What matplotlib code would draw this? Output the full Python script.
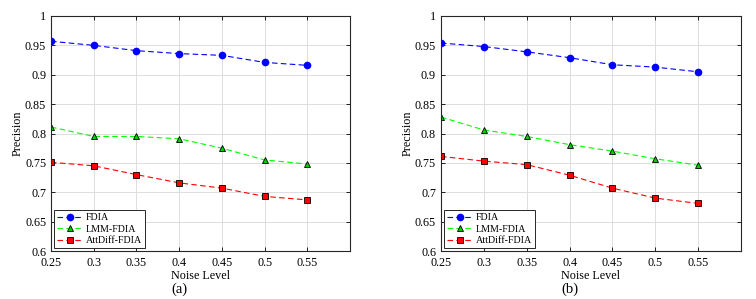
import matplotlib.pyplot as plt

plt.rcParams['font.family'] = ['Liberation Serif', 'DejaVu Serif']

noise = [0.25, 0.3, 0.35, 0.4, 0.45, 0.5, 0.55]
x_ticks = [0.25, 0.3, 0.35, 0.4, 0.45, 0.5, 0.55]
y_ticks = [0.6, 0.65, 0.7, 0.75, 0.8, 0.85, 0.9, 0.95, 1]
y_tick_labels = ['0.6', '0.65', '0.7', '0.75', '0.8', '0.85', '0.9', '0.95', '1']

# panel (a)
fdia_a = [0.957, 0.950, 0.941, 0.936, 0.933, 0.921, 0.916]
lmm_a = [0.811, 0.795, 0.795, 0.791, 0.775, 0.755, 0.748]
att_a = [0.751, 0.745, 0.730, 0.716, 0.707, 0.693, 0.687]

# panel (b)
fdia_b = [0.954, 0.948, 0.939, 0.929, 0.917, 0.913, 0.905]
lmm_b = [0.828, 0.806, 0.795, 0.781, 0.770, 0.757, 0.746]
att_b = [0.761, 0.753, 0.747, 0.729, 0.707, 0.690, 0.681]

panels = [('(a)', fdia_a, lmm_a, att_a, [0.0675, 0.1605, 0.3955, 0.786]),
          ('(b)', fdia_b, lmm_b, att_b, [0.5833, 0.1605, 0.397, 0.786])]

fig = plt.figure(figsize=(7.56, 2.99), dpi=100)

for tag, fdia, lmm, att, pos in panels:
    ax = fig.add_axes(pos)
    ax.plot(noise, fdia, color='#0000ff', lw=0.8, marker='o', ms=4.5,
            mfc='#0000ff', mec='#0000ff', label='FDIA', dashes=(5, 3))
    ax.plot(noise, lmm, color='#00ff00', lw=0.8, marker='^', ms=5,
            mfc='#00cc00', mec='black', mew=0.6, label='LMM-FDIA', dashes=(5, 3))
    ax.plot(noise, att, color='#ff0000', lw=0.8, marker='s', ms=4,
            mfc='#ff0000', mec='black', mew=0.6, label='AttDiff-FDIA', dashes=(5, 3))
    ax.set_xlim(0.25, 0.6)
    ax.set_ylim(0.6, 1.0)
    ax.set_xticks(x_ticks + [0.6])
    ax.set_xticklabels([str(t) for t in x_ticks] + [''])
    ax.set_yticks(y_ticks)
    ax.set_yticklabels(y_tick_labels)
    ax.grid(True, color='#dddddd', lw=0.7)
    ax.set_axisbelow(True)
    ax.tick_params(direction='in', top=True, right=True, labelsize=8.7,
                   length=3, width=0.6)
    ax.tick_params(axis='x', pad=4.5)
    ax.tick_params(axis='y', pad=3.5)
    for s in ax.spines.values():
        s.set_linewidth(0.8)
        s.set_color('#262626')
    ax.set_xlabel('Noise Level', fontsize=8.7)
    ax.xaxis.set_label_coords(0.5, -0.106)
    ax.xaxis.label.set_va('center')
    ax.set_ylabel('Precision', fontsize=8.7)
    ax.yaxis.set_label_coords(-0.11, 0.5)
    ax.yaxis.label.set_va('center')
    ax.text(0.43, -0.162, tag, transform=ax.transAxes, ha='center', va='center',
            fontsize=10.5)
    leg = ax.legend(loc='lower left', fontsize=7.2, fancybox=False,
                    framealpha=1, edgecolor='#262626', borderpad=0.3,
                    labelspacing=0.25, handlelength=2.6, handletextpad=0.3,
                    borderaxespad=0.3)
    leg.get_frame().set_linewidth(0.7)

fig.savefig('out.png', dpi=100)
